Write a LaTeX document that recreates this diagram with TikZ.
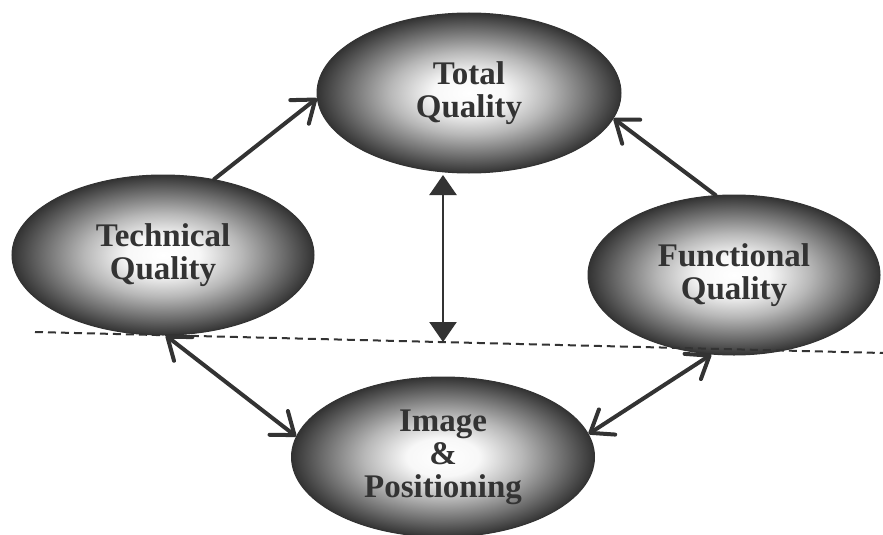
\documentclass[tikz,border=0pt]{standalone}
\usepackage{fontspec}
\setmainfont{Liberation Serif}
\usetikzlibrary{arrows.meta,shapes.geometric}
\pgfdeclareradialshading{bubbleshade}{\pgfpoint{0bp}{0bp}}{color(0bp)=(white); color(6bp)=(white!97!black); color(13bp)=(black!28); color(20bp)=(black!58); color(25bp)=(black!80); color(50bp)=(black!80)}
\definecolor{ink}{HTML}{333333}
\tikzset{
  bubble/.style={ellipse, inner sep=0pt, shading=bubbleshade, draw=black!80, line width=1pt,
    font=\fontsize{33}{33}\selectfont\bfseries, text=ink, align=center},
  flow/.style={draw=ink, line width=4pt, line cap=round,
    -{Straight Barb[length=20pt,width=30pt,round]}},
  bothflow/.style={draw=ink, line width=4pt, line cap=round,
    {Straight Barb[length=20pt,width=30pt,round]}-{Straight Barb[length=20pt,width=30pt,round]}},
  vflow/.style={draw=ink, line width=2.5pt,
    {Triangle[length=20pt,width=27pt]}-{Triangle[length=20pt,width=27pt]}},
  divider/.style={draw=ink, line width=2pt, dash pattern=on 8pt off 5pt}
}
\begin{document}
\begin{tikzpicture}[x=1pt,y=-1pt]
\useasboundingbox (0,0) rectangle (883,535);
\node[bubble, minimum width=304pt, minimum height=160pt] (total) at (469,93) {Total\\Quality};
\node[bubble, minimum width=302pt, minimum height=160pt] (tech) at (163,255) {Technical\\Quality};
\node[bubble, minimum width=292pt, minimum height=160pt] (func) at (734,275) {Functional\\Quality};
\node[bubble, minimum width=303pt, minimum height=160pt] (image) at (443,457) {Image\\\&\\Positioning};
\coordinate (dl) at (35,332);
\coordinate (dr) at (883,353);
\coordinate (vtop) at (443,175);
\coordinate (vbot) at (443,342);
\draw[divider] (dl) -- (dr);
\draw[vflow] (vtop) -- (vbot);
\draw[flow] (tech.56) -- (total.182);
\draw[flow] (func.103) -- (total.350);
\draw[bothflow] (tech.272) -- (image.172);
\draw[bothflow] (func.254) -- (image.9);
\end{tikzpicture}
\end{document}
